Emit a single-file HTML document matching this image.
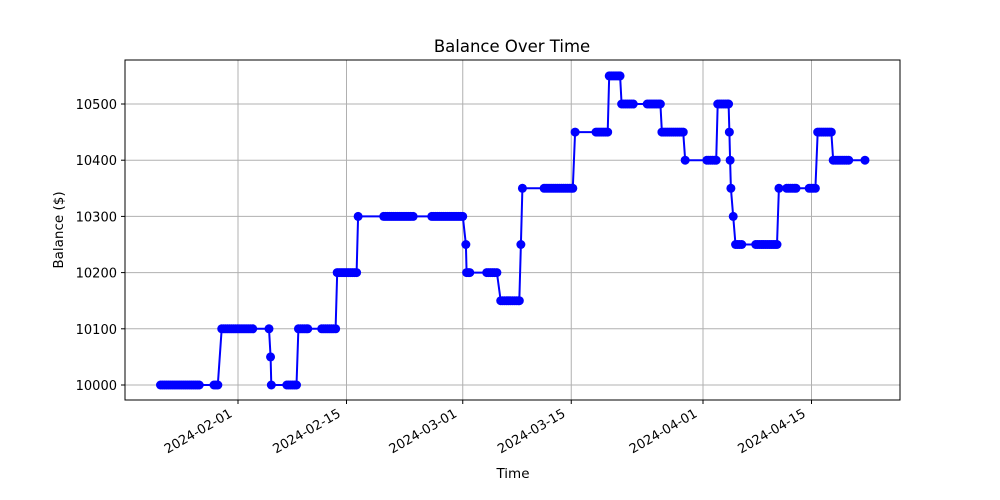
<!DOCTYPE html>
<html><head><meta charset="utf-8"><style>
html,body{margin:0;padding:0;background:#fff;}
svg{display:block;font-family:"DejaVu Sans","Liberation Sans",sans-serif;}
</style></head><body>
<svg id="chart" width="1000" height="500" viewBox="0 0 1000 500" xmlns="http://www.w3.org/2000/svg">
<rect x="0" y="0" width="1000" height="500" fill="#fff"/>
<g id="grid"></g>
<g id="series"></g>
<rect x="125" y="60" width="775" height="340" fill="none" stroke="#000" stroke-width="1"/>
<g id="xticks"></g>
<g id="yticks"></g>
<text x="512" y="52" font-size="16.5" text-anchor="middle">Balance Over Time</text>
<text x="513" y="478" font-size="13.5" text-anchor="middle">Time</text>
<text transform="translate(63,230) rotate(-90)" font-size="13.5" text-anchor="middle">Balance ($)</text>
</svg>
<script>
// day index: days since 2024-01-01
const days = [
21.0,21.25,21.5,21.75,22.0,22.25,22.5,22.75,23.0,23.25,23.5,23.75,24.0,24.25,24.5,24.75,25.0,25.25,25.5,25.75,26.0,27.9,28.15,28.4,
28.9,29.15,29.4,29.65,29.9,30.15,30.4,30.65,30.9,31.15,31.4,31.65,31.9,32.15,32.4,32.65,32.9,35.0,
35.2,
35.3,37.3,37.55,37.8,38.05,38.3,38.55,
38.8,39.05,39.3,39.55,39.8,40.0,41.8,42.05,42.3,42.55,42.8,43.05,43.3,43.6,
43.8,44.05,44.3,44.55,44.8,45.05,45.3,45.55,45.8,46.05,46.3,
46.5,49.8,50.05,50.3,50.55,50.8,51.05,51.3,51.55,51.8,52.05,52.3,52.55,52.8,53.05,53.3,53.6,
56.0,56.25,56.5,56.75,57.0,57.25,57.5,57.75,58.0,58.25,58.5,58.75,59.0,59.25,59.5,59.75,60.0,
60.4,
60.5,60.7,60.9,63.1,63.35,63.6,63.85,64.1,64.4,
64.9,65.15,65.4,65.65,65.9,66.15,66.4,66.65,66.9,67.15,67.3,
67.5,
67.7,70.5,70.75,71.0,71.25,71.5,71.75,72.0,72.25,72.5,72.75,73.0,73.25,73.5,73.75,74.0,74.2,
74.5,77.2,77.45,77.7,77.95,78.2,78.45,78.7,
78.9,79.15,79.4,79.65,79.9,80.15,80.3,
80.5,80.75,81.0,81.25,81.5,81.75,82.0,83.8,84.05,84.3,84.55,84.8,85.05,85.3,85.5,
85.7,85.95,86.2,86.45,86.7,86.95,87.2,87.45,87.7,87.95,88.2,88.45,
88.7,91.5,91.75,92.0,92.25,92.5,92.7,
92.9,93.15,93.4,93.65,93.9,94.15,94.3,
94.4,94.5,94.6,94.9,
95.2,95.45,95.7,96.0,97.8,98.05,98.3,98.55,98.8,99.05,99.3,99.55,99.8,100.05,100.3,100.55,
100.8,101.8,102.05,102.3,102.55,102.8,103.0,104.7,104.95,105.2,105.5,
105.8,106.05,106.3,106.55,106.8,107.05,107.3,107.55,
107.8,108.05,108.3,108.55,108.8,109.05,109.3,109.55,109.8,111.9];
const balances = [
10000,10000,10000,10000,10000,10000,10000,10000,10000,10000,10000,10000,10000,10000,10000,10000,10000,10000,10000,10000,10000,10000,10000,10000,
10100,10100,10100,10100,10100,10100,10100,10100,10100,10100,10100,10100,10100,10100,10100,10100,10100,10100,
10050,
10000,10000,10000,10000,10000,10000,10000,
10100,10100,10100,10100,10100,10100,10100,10100,10100,10100,10100,10100,10100,10100,
10200,10200,10200,10200,10200,10200,10200,10200,10200,10200,10200,
10300,10300,10300,10300,10300,10300,10300,10300,10300,10300,10300,10300,10300,10300,10300,10300,10300,
10300,10300,10300,10300,10300,10300,10300,10300,10300,10300,10300,10300,10300,10300,10300,10300,10300,
10250,
10200,10200,10200,10200,10200,10200,10200,10200,10200,
10150,10150,10150,10150,10150,10150,10150,10150,10150,10150,10150,
10250,
10350,10350,10350,10350,10350,10350,10350,10350,10350,10350,10350,10350,10350,10350,10350,10350,10350,
10450,10450,10450,10450,10450,10450,10450,10450,
10550,10550,10550,10550,10550,10550,10550,
10500,10500,10500,10500,10500,10500,10500,10500,10500,10500,10500,10500,10500,10500,10500,
10450,10450,10450,10450,10450,10450,10450,10450,10450,10450,10450,10450,
10400,10400,10400,10400,10400,10400,10400,
10500,10500,10500,10500,10500,10500,10500,
10450,10400,10350,10300,
10250,10250,10250,10250,10250,10250,10250,10250,10250,10250,10250,10250,10250,10250,10250,10250,
10350,10350,10350,10350,10350,10350,10350,10350,10350,10350,10350,
10450,10450,10450,10450,10450,10450,10450,10450,
10400,10400,10400,10400,10400,10400,10400,10400,10400,10400];
const xTickDays = [31,45,60,74,91,105];
const xTickLabels = ["2024-02-01","2024-02-15","2024-03-01","2024-03-15","2024-04-01","2024-04-15"];
const yTicks = [10000,10100,10200,10300,10400,10500];

const NS = "http://www.w3.org/2000/svg";
function X(d){ return 238 + (d - 31) * 7.75; }
function Y(v){ return 385 - (v - 10000) * 0.562; }
function mk(tag, attrs, parent){ const e = document.createElementNS(NS, tag); for (const k in attrs) e.setAttribute(k, attrs[k]); parent.appendChild(e); return e; }

const grid = document.getElementById('grid');
const xt = document.getElementById('xticks');
const yt = document.getElementById('yticks');
const series = document.getElementById('series');

xTickDays.forEach((d, i) => {
  const x = X(d);
  const g = mk('line', {x1:x, x2:x, y1:60, y2:400, stroke:'#b0b0b0', 'stroke-width':1}, grid);
  
  
  const t = mk('line', {x1:x, x2:x, y1:400, y2:404, stroke:'#000', 'stroke-width':1}, xt);
  
  
  const lb = mk('text', {transform:`translate(${x-5},${416}) rotate(-30)`, 'font-size':13, 'text-anchor':'end'}, xt);
  lb.textContent = xTickLabels[i];
  
  
});
yTicks.forEach(v => {
  const y = Y(v);
  const g = mk('line', {x1:125, x2:900, y1:y, y2:y, stroke:'#b0b0b0', 'stroke-width':1}, grid);
  
  
  const t = mk('line', {x1:121, x2:125, y1:y, y2:y, stroke:'#000', 'stroke-width':1}, yt);
  
  
  const lb = mk('text', {x:117, y:y+5, 'font-size':13, 'text-anchor':'end'}, yt);
  lb.textContent = String(v);
  
  
});

const pts = days.map((d, i) => X(d).toFixed(1) + ',' + Y(balances[i]).toFixed(1)).join(' ');
const line = mk('polyline', {points:pts, fill:'none', stroke:'#0000ff', 'stroke-width':2}, series);


days.forEach((d, i) => {
  const c = mk('circle', {cx:X(d), cy:Y(balances[i]), r:4.5, fill:'#0000ff'}, series);
  
  
});
</script>
</body></html>
